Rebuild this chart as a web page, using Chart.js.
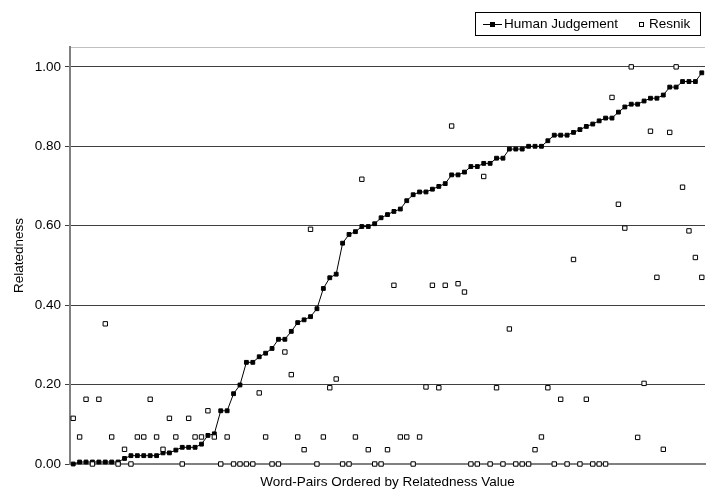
<!DOCTYPE html>
<html><head><meta charset="utf-8">
<script src="https://cdn.jsdelivr.net/npm/chart.js@4/dist/chart.umd.min.js"></script>
<style>html,body{margin:0;padding:0;overflow:hidden;background:#fff;width:706px;height:497px}canvas{display:block}</style>
</head><body>
<canvas id="c" width="710" height="497"></canvas>
<script>
const categories = [];
for (let i = 1; i <= 99; i++) categories.push('Pair ' + i);

const humanJudgement = [
  0.000, 0.005, 0.005, 0.005, 0.005, 0.005, 0.005, 0.005, 0.014, 0.021,
  0.021, 0.021, 0.021, 0.021, 0.028, 0.028, 0.035, 0.042, 0.042, 0.042,
  0.050, 0.072, 0.076, 0.134, 0.134, 0.177, 0.199, 0.256, 0.256, 0.270,
  0.279, 0.291, 0.314, 0.314, 0.334, 0.356, 0.363, 0.371, 0.391, 0.442,
  0.469, 0.478, 0.556, 0.578, 0.585, 0.598, 0.598, 0.605, 0.620, 0.628,
  0.636, 0.642, 0.663, 0.678, 0.685, 0.685, 0.692, 0.699, 0.706, 0.728,
  0.728, 0.735, 0.749, 0.749, 0.757, 0.757, 0.770, 0.770, 0.793, 0.793,
  0.793, 0.800, 0.800, 0.800, 0.814, 0.828, 0.828, 0.828, 0.835, 0.842,
  0.850, 0.856, 0.864, 0.871, 0.871, 0.886, 0.899, 0.906, 0.906, 0.914,
  0.921, 0.921, 0.929, 0.949, 0.949, 0.963, 0.963, 0.963, 0.985
];

const resnik = [
  0.115, 0.068, 0.163, 0.000, 0.163, 0.353, 0.068, 0.000, 0.037, 0.000,
  0.068, 0.068, 0.163, 0.068, 0.037, 0.115, 0.068, 0.000, 0.115, 0.068,
  0.068, 0.134, 0.068, 0.000, 0.068, 0.000, 0.000, 0.000, 0.000, 0.179,
  0.068, 0.000, 0.000, 0.282, 0.225, 0.068, 0.036, 0.591, 0.000, 0.068,
  0.192, 0.214, 0.000, 0.000, 0.068, 0.717, 0.036, 0.000, 0.000, 0.036,
  0.450, 0.068, 0.068, 0.000, 0.068, 0.194, 0.450, 0.192, 0.450, 0.851,
  0.454, 0.433, 0.000, 0.000, 0.724, 0.000, 0.192, 0.000, 0.340, 0.000,
  0.000, 0.000, 0.036, 0.068, 0.192, 0.000, 0.163, 0.000, 0.515, 0.000,
  0.163, 0.000, 0.000, 0.000, 0.923, 0.654, 0.594, 1.000, 0.067, 0.203,
  0.838, 0.470, 0.037, 0.835, 1.000, 0.697, 0.587, 0.520, 0.470
];

const yTickValues = [0, 0.2, 0.4, 0.6, 0.8, 1.0];
const yMax = 1.05;

const FONT = '"Liberation Sans", Arial, sans-serif';
const FSIZE = 13.5;

const boxLegend = {
  id: 'boxLegend',
  afterDraw(chart) {
    const ctx = chart.ctx;
    const ds = chart.data.datasets;
    ctx.save();
    ctx.lineWidth = 1;
    ctx.strokeStyle = '#000';
    ctx.fillStyle = '#fff';
    ctx.fillRect(475.5, 12.5, 225, 23);
    ctx.strokeRect(475.5, 12.5, 225, 23);
    ctx.beginPath();
    ctx.moveTo(483, 24.5);
    ctx.lineTo(502, 24.5);
    ctx.stroke();
    ctx.fillStyle = '#000';
    ctx.fillRect(490, 22, 5, 5);
    ctx.fillStyle = '#fff';
    ctx.fillRect(639.5, 22.5, 4, 4);
    ctx.strokeRect(639.5, 22.5, 4, 4);
    ctx.fillStyle = '#000';
    ctx.font = FSIZE + 'px ' + FONT;
    ctx.textBaseline = 'middle';
    ctx.textAlign = 'left';
    ctx.fillText(ds[0].label, 504, 24);
    ctx.fillText(ds[1].label, 649, 24);
    ctx.restore();
  }
};

new Chart(document.getElementById('c'), {
  type: 'line',
  data: {
    labels: categories,
    datasets: [
      {
        label: 'Human Judgement',
        data: humanJudgement,
        borderColor: '#000',
        backgroundColor: '#000',
        borderWidth: 1,
        pointStyle: 'rect',
        pointRadius: 2.7,
        pointBackgroundColor: '#000',
        pointBorderColor: '#000',
        pointBorderWidth: 1,
        tension: 0,
        clip: false,
        order: 2
      },
      {
        label: 'Resnik',
        data: resnik,
        showLine: false,
        pointStyle: 'rect',
        pointRadius: 3.1,
        pointBackgroundColor: '#fff',
        pointBorderColor: '#000',
        pointBorderWidth: 1,
        clip: false,
        order: 1
      }
    ]
  },
  options: {
    responsive: false,
    animation: false,
    layout: { padding: { top: 47, right: 2, bottom: 0, left: 0 } },
    plugins: { legend: { display: false }, tooltip: { enabled: false } },
    scales: {
      x: {
        type: 'category',
        offset: true,
        ticks: { display: false },
        grid: { display: false, drawTicks: false },
        border: { display: true, color: '#808080', width: 2 },
        title: {
          display: true,
          text: 'Word-Pairs Ordered by Relatedness Value',
          color: '#000',
          font: { family: FONT, size: FSIZE },
          padding: { top: 0, bottom: 7 }
        },
        afterFit(s) { s.height = 33; }
      },
      y: {
        min: 0,
        max: yMax,
        afterBuildTicks(s) {
          s.ticks = yTickValues.concat([yMax]).map(v => ({ value: v }));
        },
        ticks: {
          callback: v => (v > 1.01 ? '' : Number(v).toFixed(2)),
          color: '#000',
          font: { family: FONT, size: FSIZE },
          padding: 4
        },
        grid: {
          color: c => (c.tick && c.tick.value > 1.01 ? '#c0c0c0' : (c.tick && c.tick.value === 0 ? '#808080' : '#404040')),
          tickColor: c => (c.tick && c.tick.value > 1.01 ? 'rgba(0,0,0,0)' : '#404040'),
          tickLength: 5,
          lineWidth: 1
        },
        border: { display: true, color: '#808080', width: 2 },
        title: {
          display: true,
          text: 'Relatedness',
          color: '#000',
          font: { family: FONT, size: FSIZE },
          padding: { top: 11, bottom: 0 }
        },
        afterFit(s) { s.width = 70; }
      }
    }
  },
  plugins: [boxLegend]
});
</script>
</body></html>
